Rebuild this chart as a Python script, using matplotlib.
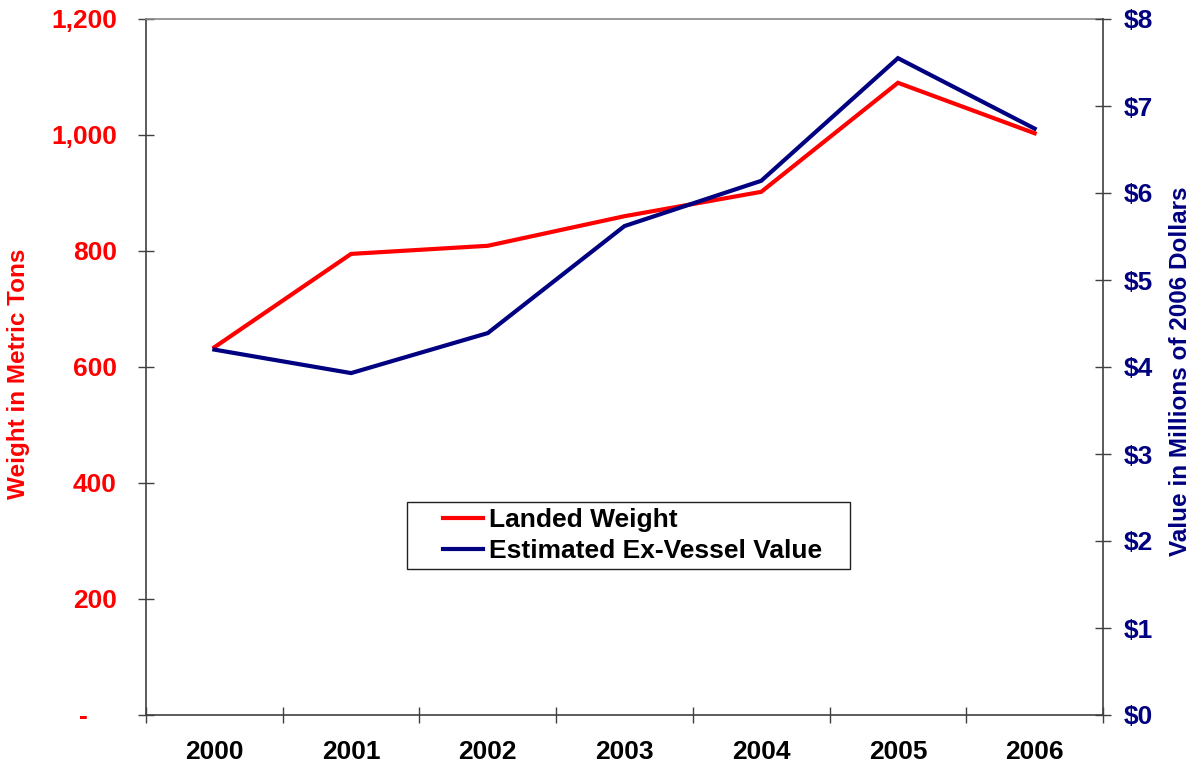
import matplotlib
matplotlib.use("Agg")
import matplotlib.pyplot as plt
from matplotlib.patches import Rectangle
import numpy as np

years = ["2000", "2001", "2002", "2003", "2004", "2005", "2006"]
landed_weight = [634, 795, 809, 860, 902, 1090, 1003]          # metric tons
ex_vessel_value = [4.20, 3.93, 4.39, 5.62, 6.14, 7.55, 6.74]   # millions of 2006 dollars
left_ticks = [0, 200, 400, 600, 800, 1000, 1200]
left_tick_labels = ["-    ", "200", "400", "600", "800", "1,000", "1,200"]
right_ticks = [0, 1, 2, 3, 4, 5, 6, 7, 8]
right_tick_labels = ["$0", "$1", "$2", "$3", "$4", "$5", "$6", "$7", "$8"]

plt.rcParams["font.family"] = ["Liberation Sans", "DejaVu Sans"]
plt.rcParams["font.weight"] = "bold"

RED = "#FF0000"
NAVY = "#000080"

fig = plt.figure(figsize=(11.92, 7.65), dpi=100)
ax = fig.add_axes([146 / 1192, 1 - 715 / 765, (1103 - 146) / 1192, (715 - 19) / 765])
ax2 = ax.twinx()

x = np.arange(len(years)) + 0.5
l1, = ax.plot(x, landed_weight, color=RED, lw=3, label="Landed Weight", solid_joinstyle="miter")
l2, = ax2.plot(x, ex_vessel_value, color=NAVY, lw=3, label="Estimated Ex-Vessel Value", solid_joinstyle="miter")

ax.set_xlim(0, len(years))
ax.set_ylim(0, 1200)
ax2.set_ylim(0, 8)

# x axis: tick marks at category boundaries, labels at centers
ax.set_xticks(np.arange(len(years) + 1))
ax.set_xticklabels([])
ax.set_xticks(x, minor=True)
ax.set_xticklabels(years, minor=True, fontsize=19, fontweight="bold", color="black")
ax.tick_params(axis="x", which="major", direction="inout", length=12, width=1, color="#404040")
ax.tick_params(axis="x", which="minor", length=0, pad=18)

ax.set_yticks(left_ticks)
ax.set_yticklabels(left_tick_labels, fontsize=19, fontweight="bold", color=RED)
ax.tick_params(axis="y", direction="inout", length=12, width=1, color="#404040", pad=15)

ax2.set_yticks(right_ticks)
ax2.set_yticklabels(right_tick_labels, fontsize=19, fontweight="bold", color=NAVY)
ax2.tick_params(axis="y", direction="inout", length=12, width=1, color="#404040", pad=9)

for s in ["left", "bottom"]:
    ax.spines[s].set_color("#404040")
    ax.spines[s].set_linewidth(1.2)
ax.spines["top"].set_color("#888888")
ax.spines["top"].set_linewidth(1.2)
ax.spines["right"].set_visible(False)
for s in ["left", "top", "bottom"]:
    ax2.spines[s].set_visible(False)
ax2.spines["right"].set_color("#404040")
ax2.spines["right"].set_linewidth(1.2)

ax.set_ylabel("Weight in Metric Tons", fontsize=17.5, fontweight="bold", color=RED)
ax.yaxis.set_label_coords(-0.121, 0.49)
ax2.set_ylabel("Value in Millions of 2006 Dollars", fontsize=17.5, fontweight="bold", color=NAVY)
ax2.yaxis.set_label_coords(1.069, 0.494)

leg = fig.legend(handles=[l1, l2], loc="upper left",
                 bbox_to_anchor=(443 / 1192, 1 - 508 / 765),
                 bbox_transform=fig.transFigure,
                 frameon=False, borderpad=0, borderaxespad=0,
                 handlelength=1.5, handletextpad=0.25, labelspacing=0.28,
                 prop={"size": 19, "weight": "bold"})

fig.patches.append(Rectangle((407 / 1192, 1 - 569 / 765), (850 - 407) / 1192, (569 - 502) / 765,
                             transform=fig.transFigure, fill=False, edgecolor="#202020", lw=1.0))

fig.savefig("out.png", dpi=100)
